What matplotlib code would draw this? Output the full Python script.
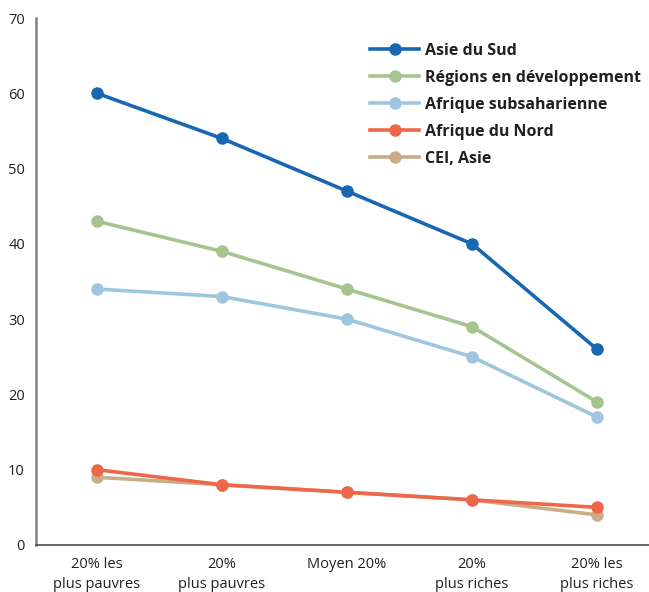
import matplotlib.pyplot as plt
import numpy as np

categories = ['20% les\nplus pauvres', '20%\nplus pauvres', 'Moyen 20%', '20%\nplus riches', '20% les\nplus riches']
asie_sud = [60, 54, 47, 40, 26]
regions_dev = [43, 39, 34, 29, 19]
afrique_subsah = [34, 33, 30, 25, 17]
afrique_nord = [10, 8, 7, 6, 5]
cei_asie = [9, 8, 7, 6, 4]

series = [
    ('Asie du Sud', asie_sud, '#1767b3', 6),
    ('Régions en développement', regions_dev, '#a5c48f', 5),
    ('Afrique subsaharienne', afrique_subsah, '#9fc6de', 4),
    ('Afrique du Nord', afrique_nord, '#ee674a', 3),
    ('CEI, Asie', cei_asie, '#c9ad87', 2),
]

plt.rcParams['font.family'] = ['Open Sans', 'DejaVu Sans']

fig = plt.figure(figsize=(6.49, 5.92), dpi=100)
ax = fig.add_axes([36/649, 1 - 545/592, 1 - 36/649, (545 - 18)/592])

x = np.arange(len(categories))
for name, vals, col, z in series:
    ax.plot(x, vals, color=col, linewidth=2.6, marker='o', markersize=8, label=name, zorder=z)

ax.set_xlim(-0.488, 4.416)
ax.set_ylim(0, 70)
ax.set_yticks(np.arange(0, 71, 10))
ax.set_xticks(x)
ax.set_xticklabels(categories, fontsize=10.5, color='#231f20', linespacing=1.45)
ax.tick_params(axis='y', labelsize=10.5, colors='#231f20', length=0, pad=8)
ax.tick_params(axis='x', length=0, pad=9)

for s in ['top', 'right']:
    ax.spines[s].set_visible(False)
ax.spines['left'].set_color('#808080')
ax.spines['left'].set_linewidth(1.8)
ax.spines['bottom'].set_color('#4d4d4d')
ax.spines['bottom'].set_linewidth(1.2)

leg = ax.legend(loc='upper left', bbox_to_anchor=(0.532, 0.968), frameon=False,
                borderpad=0, handlelength=3.06, handletextpad=0.36, labelspacing=0.69,
                prop={'weight': 'bold', 'size': 11.5})
for t in leg.get_texts():
    t.set_color('#231f20')

fig.savefig('out.png', dpi=100)
